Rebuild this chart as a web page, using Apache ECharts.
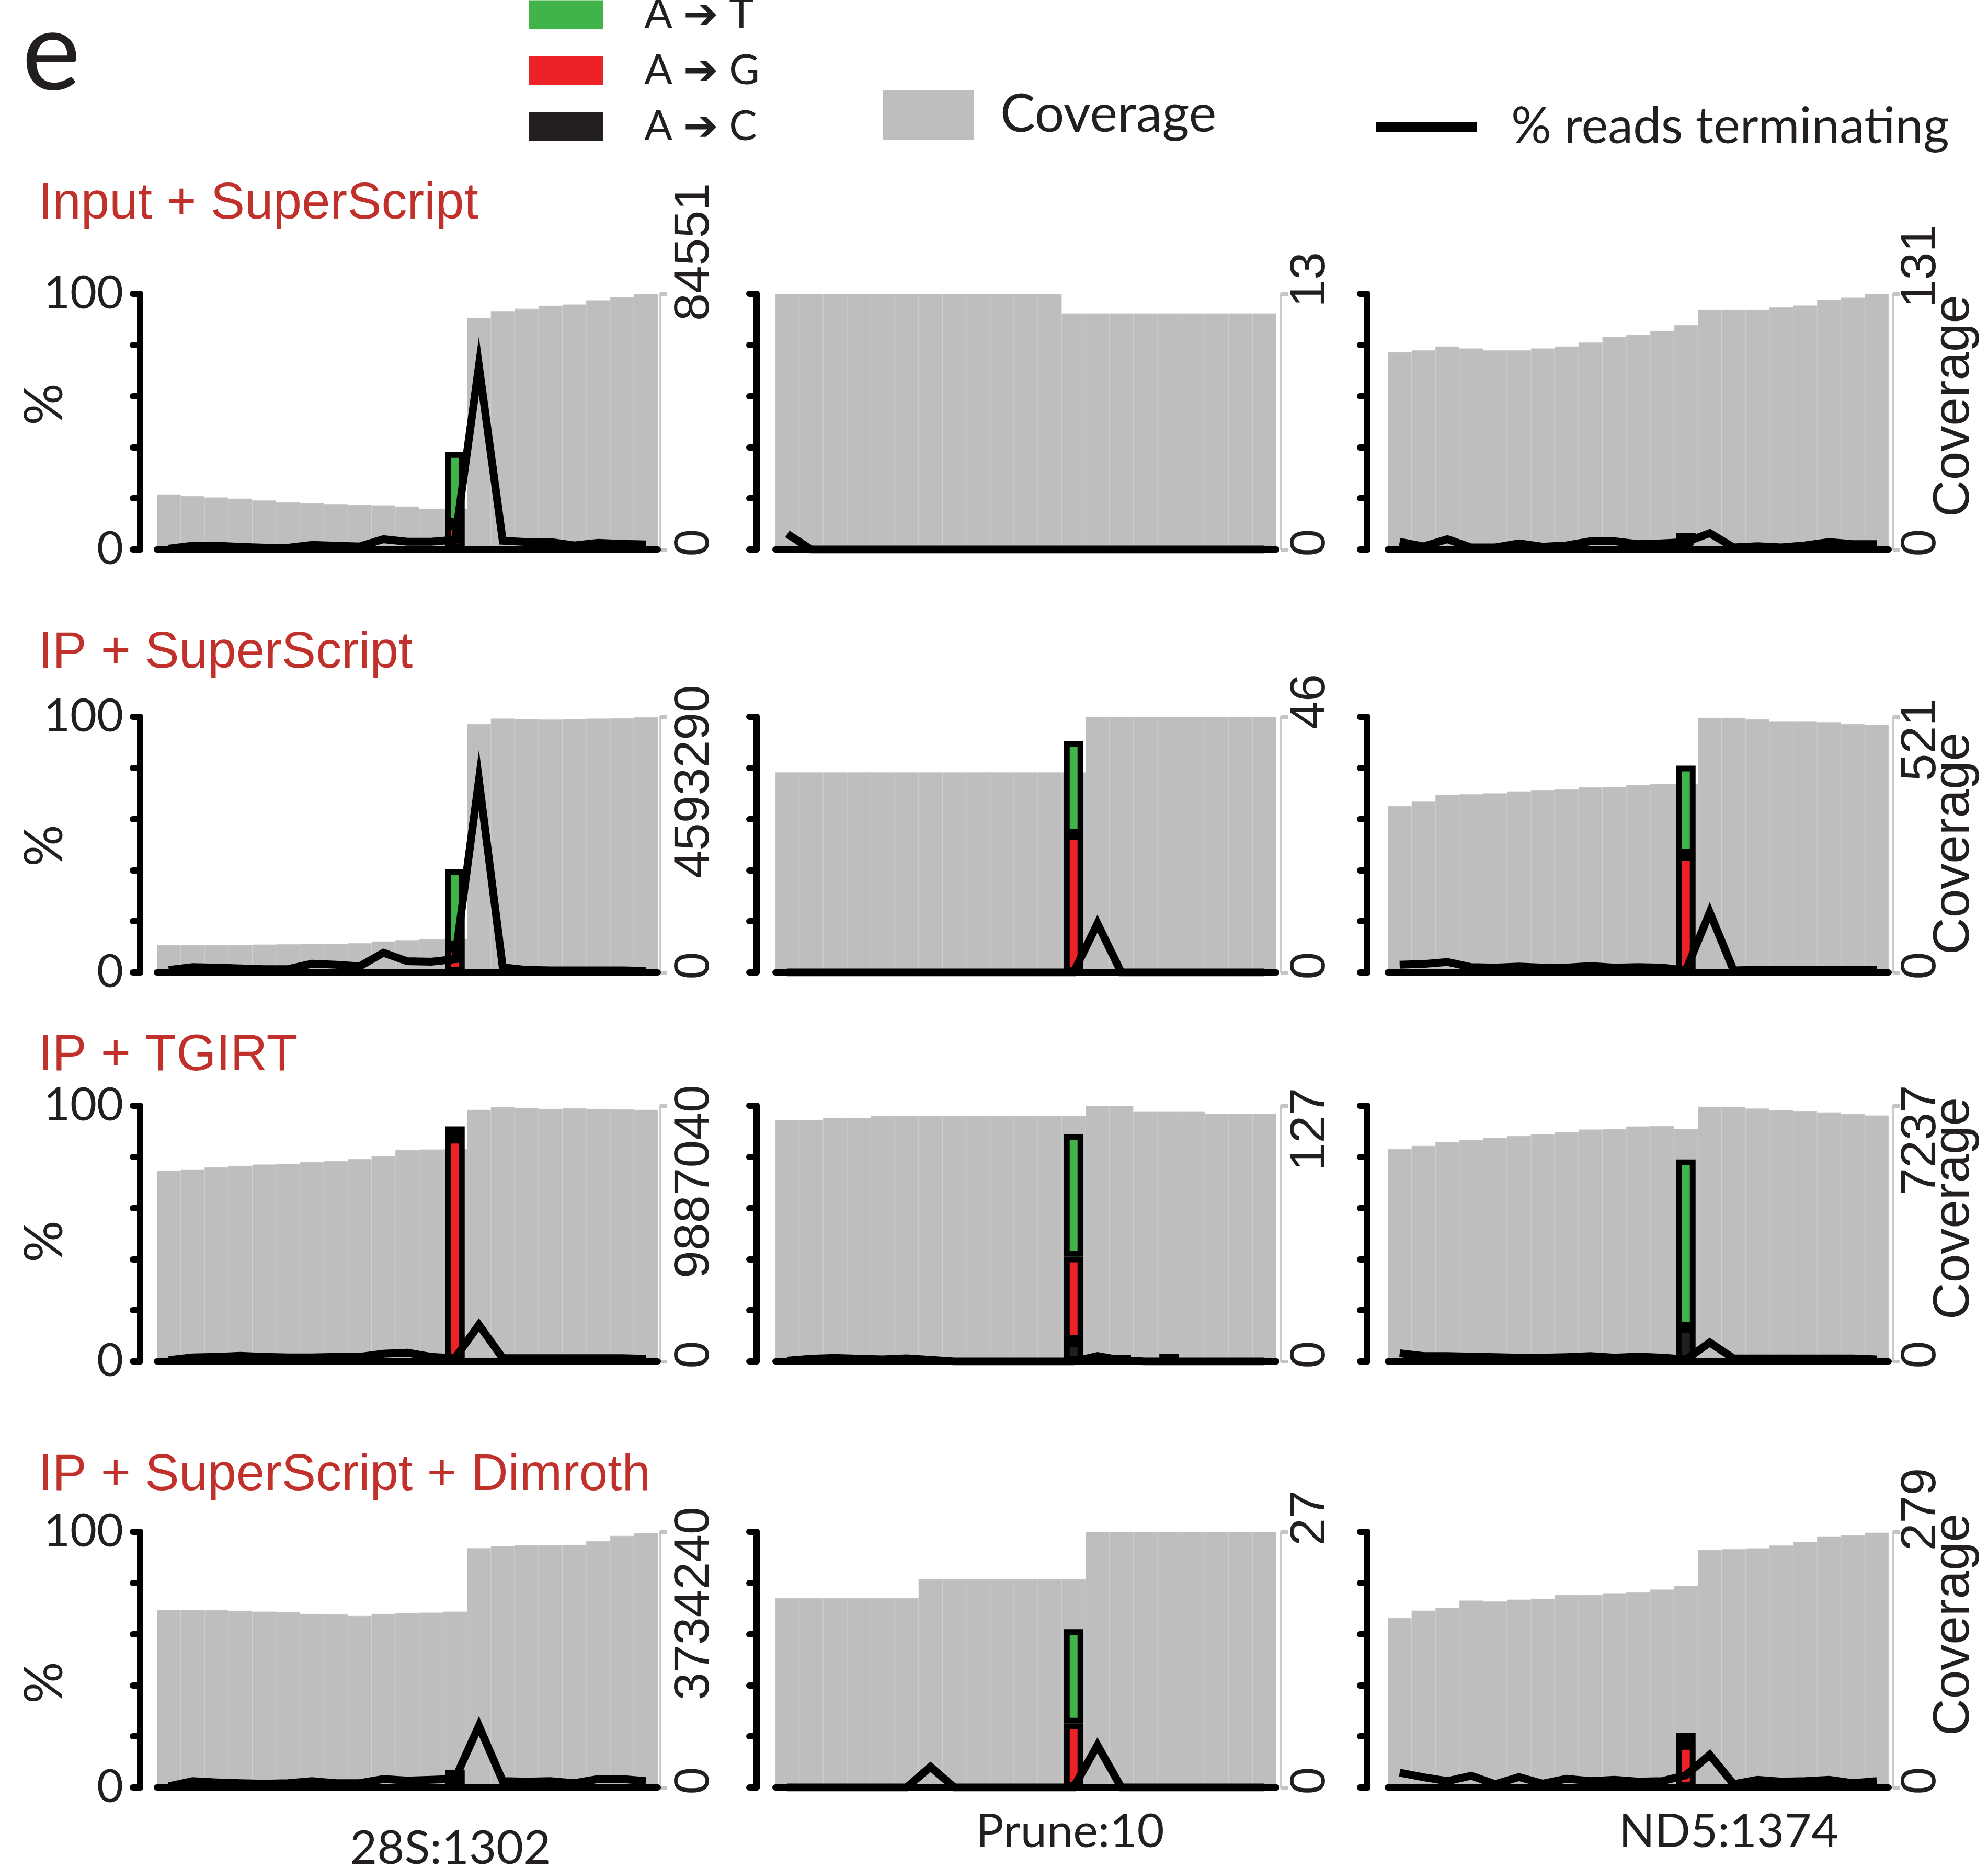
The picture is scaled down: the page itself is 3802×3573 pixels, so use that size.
<!DOCTYPE html>
<html>
<head>
<meta charset="utf-8">
<title>Coverage, misincorporation and RT stops at three sites</title>
<script src="https://cdn.jsdelivr.net/npm/echarts@6.0.0/dist/echarts.min.js"></script>
<style>
  html, body { margin: 0; padding: 0; background: #fff; }
  #chart { width: 3802px; height: 3573px; }
</style>
</head>
<body>
<div id="chart"></div>
<script>
// Panel e: 4 library preparations (rows) x 3 sites (columns).
// Grey bars = read coverage (right axis), stacked bars = A->T / A->G / A->C
// misincorporation at the site, black line = % reads terminating (left axis).

const CONDITIONS = ['Input + SuperScript', 'IP + SuperScript', 'IP + TGIRT', 'IP + SuperScript + Dimroth'];
const SITES = ['28S:1302', 'Prune:10', 'ND5:1374'];
const POSITIONS = ['-12', '-11', '-10', '-9', '-8', '-7', '-6', '-5', '-4', '-3', '-2', '-1',
                   '0', '1', '2', '3', '4', '5', '6', '7', '8'];
const SITE_INDEX = 12;
const PCT_LABELS = [0, 100];

const NAME_T = 'A ➔ T', NAME_G = 'A ➔ G', NAME_C = 'A ➔ C';
const NAME_COV = 'Coverage', NAME_TERM = '% reads terminating';

// panels in reading order: row by row, 28S / Prune / ND5
const COV_MAX = [84551, 13, 131, 4593290, 46, 521, 9887040, 127, 7237, 3734240, 27, 279];

const COVERAGE = [
  [18200, 17700, 17200, 16800, 16200, 15600, 15300, 15000, 14800, 14600, 14200, 13500, 13500, 76600, 78800, 79600, 80600, 81000, 82400, 83500, 84551],
  [13, 13, 13, 13, 13, 13, 13, 13, 13, 13, 13, 13, 12, 12, 12, 12, 12, 12, 12, 12, 12],
  [101, 102, 104, 103, 102, 102, 103, 104, 106, 109, 110, 112, 115, 123, 123, 123, 124, 125, 128, 129, 131],
  [491000, 491000, 491000, 496000, 501000, 505000, 514000, 514000, 524000, 556000, 579000, 593000, 602000, 4465000, 4561000, 4552000, 4543000, 4552000, 4561000, 4566000, 4585000],
  [36, 36, 36, 36, 36, 36, 36, 36, 36, 36, 36, 36, 36, 46, 46, 46, 46, 46, 46, 46, 46],
  [339, 348, 362, 363, 365, 369, 371, 373, 377, 378, 382, 384, 384, 519, 519, 516, 511, 511, 510, 506, 505],
  [7376000, 7425000, 7504000, 7564000, 7613000, 7643000, 7702000, 7751000, 7821000, 7939000, 8167000, 8196000, 8206000, 9729000, 9838000, 9808000, 9768000, 9788000, 9768000, 9749000, 9729000],
  [120, 120, 121, 121, 122, 122, 122, 122, 122, 122, 122, 122, 122, 127, 127, 124, 124, 124, 123, 123, 123],
  [6014, 6101, 6209, 6267, 6332, 6383, 6434, 6492, 6564, 6571, 6651, 6665, 6586, 7208, 7208, 7157, 7114, 7078, 7049, 7005, 6962],
  [2595000, 2595000, 2588000, 2577000, 2569000, 2565000, 2536000, 2528000, 2506000, 2536000, 2547000, 2554000, 2569000, 3495000, 3525000, 3536000, 3536000, 3544000, 3596000, 3675000, 3716000],
  [20, 20, 20, 20, 20, 20, 22, 22, 22, 22, 22, 22, 22, 27, 27, 27, 27, 27, 27, 27, 27],
  [185, 193, 196, 204, 203, 205, 206, 210, 210, 212, 213, 216, 220, 259, 260, 261, 264, 268, 274, 275, 278]
];

const TERMINATING = [
  [0.3, 1.5, 1.5, 1.0, 0.7, 0.7, 1.8, 1.5, 1.2, 4.0, 3.0, 3.0, 3.8, 71.8, 3.4, 2.9, 2.9, 1.6, 2.6, 2.2, 2.0],
  [6.1, 0, 0, 0, 0, 0, 0, 0, 0, 0, 0, 0, 0, 0, 0, 0, 0, 0, 0, 0, 0],
  [3.0, 1.2, 4.0, 0.8, 0.8, 2.4, 1.1, 1.6, 3.2, 3.2, 2.1, 2.4, 2.9, 6.4, 0.8, 1.3, 0.8, 1.6, 2.9, 2.1, 2.1],
  [1.0, 2.1, 1.9, 1.6, 1.3, 1.3, 3.4, 3.0, 2.4, 7.7, 4.4, 4.2, 5.2, 75.2, 2.0, 1.0, 0.8, 0.8, 0.8, 0.8, 0.6],
  [0, 0, 0, 0, 0, 0, 0, 0, 0, 0, 0, 0, 0, 19.1, 0, 0, 0, 0, 0, 0, 0],
  [3.0, 3.3, 4.1, 2.1, 1.9, 2.3, 1.9, 1.9, 2.5, 1.9, 2.1, 1.9, 0.8, 23.5, 0.8, 1.0, 1.0, 1.0, 1.0, 1.0, 1.0],
  [0.5, 1.6, 1.8, 2.2, 1.8, 1.6, 1.6, 1.8, 1.8, 3.0, 3.4, 1.8, 1.3, 14.3, 1.3, 1.3, 1.3, 1.3, 1.3, 1.3, 1.0],
  [0.3, 1.1, 1.4, 1.1, 0.8, 1.2, 0.6, 0, 0, 0, 0, 0, 0, 2.1, 0.5, 0, 0, 0, 0, 0, 0],
  [3.2, 2.1, 2.1, 1.9, 1.7, 1.5, 1.5, 1.7, 2.1, 1.5, 1.9, 1.5, 0.8, 7.4, 1.2, 1.2, 1.2, 1.2, 1.2, 1.2, 0.8],
  [0.5, 2.5, 2.0, 1.7, 1.5, 1.7, 2.5, 1.7, 1.7, 3.3, 2.7, 3.0, 3.4, 24.1, 2.5, 2.3, 2.5, 1.7, 3.3, 3.3, 2.5],
  [0, 0, 0, 0, 0, 0, 8.1, 0, 0, 0, 0, 0, 0, 16.5, 0, 0, 0, 0, 0, 0, 0],
  [5.8, 4.0, 2.5, 4.6, 1.3, 4.1, 1.5, 3.4, 2.5, 3.0, 2.3, 2.5, 4.8, 12.8, 1.3, 3.0, 2.3, 2.5, 3.0, 1.7, 2.5]
];

// misincorporation, % of reads: [position index, A->T, A->G, A->C]
const MISMATCH = [
  [[12, 28.1, 10, 0]],
  [],
  [[12, 3, 1.5, 2]],
  [[12, 30.4, 10, 0]],
  [[12, 36.4, 54, 0]],
  [[12, 34.9, 46, 0]],
  [[12, 4.4, 87.5, 0]],
  [[12, 47.9, 33, 8], [14, 2.5, 0, 0], [16, 3, 0, 0]],
  [[12, 65.7, 0, 13.3]],
  [[12, 6.1, 0.8, 0]],
  [[12, 36.9, 25, 0]],
  [[12, 4.4, 17, 0]]
];

// ---- layout (px) ----
const L = {
  colLeft: [300, 1483, 2654], colWidth: 958,
  rowTop: [562, 1371, 2115, 2930], rowHeight: 489,
  leftAxisOffset: [32, 36, 39], rightAxisOffset: [4, 8, 8],
  rightLabelMargin: [19, 10, 7],
  maxLabelShift: [80, 27, 53, -124, 29, -44, -145, -45, -66, -137, 26, 43],
  zeroLabelShift: 13,
  pctNameShift: [33, -2, -15, -44],
  covNameShift: [30, 2, 48, 67],
  siteLabelShift: [-9, -7, 82], siteLabelMargin: [72, 40, 40],
  titleY: [391, 1250, 2020, 2823]
};

const INK = '#231f20';
const RED_TITLE = '#c0312b';
const GREEN = '#40b449', RED = '#ec2227', BLACK = '#231f20', GREY = '#bebebe';
const HELV = "'Liberation Sans', Arial, Helvetica, sans-serif";
const MYRIAD = "Lato, 'Open Sans', 'DejaVu Sans', sans-serif";

// padding that moves centred text by s px along its reading direction
function shiftPad(s) { return s >= 0 ? [0, 0, 0, 2 * s] : [0, -2 * s, 0, 0]; }

function mismatchData(p, k) {
  const arr = POSITIONS.map(() => '-');
  MISMATCH[p].forEach(e => { if (e[k] > 0) arr[e[0]] = e[k]; });
  return arr;
}

const grids = [], xAxes = [], yAxes = [], series = [];

for (let p = 0; p < 12; p++) {
  const r = Math.floor(p / 3), c = p % 3;
  grids.push({ left: L.colLeft[c], top: L.rowTop[r], width: L.colWidth, height: L.rowHeight, outerBoundsMode: 'none' });

  xAxes.push({
    gridIndex: p, type: 'category', data: POSITIONS, boundaryGap: true, z: 10,
    axisLine: { show: true, lineStyle: { color: '#000', width: 12 } },
    axisTick: { show: false },
    axisLabel: {
      show: r === 3, interval: 0, margin: L.siteLabelMargin[c],
      formatter: (v, i) => i === SITE_INDEX ? '{s|' + SITES[c] + '}' : '',
      rich: { s: { fontFamily: MYRIAD, fontSize: 90, color: INK, padding: shiftPad(L.siteLabelShift[c]) } }
    },
    splitLine: { show: false }
  });
  xAxes.push({ gridIndex: p, type: 'category', data: POSITIONS, show: false });

  yAxes.push({
    gridIndex: p, type: 'value', position: 'left', min: 0, max: 100, interval: 20,
    offset: L.leftAxisOffset[c],
    axisLine: { show: true, lineStyle: { color: '#000', width: 12, cap: 'round' } },
    axisTick: { show: true, length: 14, lineStyle: { color: '#000', width: 12, cap: 'round' } },
    axisLabel: {
      show: c === 0, margin: 32, color: INK, fontFamily: MYRIAD, fontSize: 88, hideOverlap: false,
      formatter: v => PCT_LABELS.indexOf(v) >= 0 ? String(v) : ''
    },
    splitLine: { show: false },
    name: c === 0 ? '%' : '', nameLocation: 'middle', nameRotate: 90, nameGap: 131, nameMoveOverlap: false,
    nameTextStyle: { fontFamily: MYRIAD, fontSize: 100, color: INK, padding: shiftPad(L.pctNameShift[r]) }
  });

  yAxes.push({
    gridIndex: p, type: 'value', position: 'right', min: 0, max: COV_MAX[p], interval: COV_MAX[p],
    offset: L.rightAxisOffset[c],
    axisLine: { show: true, lineStyle: { color: '#cacaca', width: 3 } },
    axisTick: { show: true, length: 14, lineStyle: { color: '#c4c4c4', width: 7 } },
    axisLabel: {
      show: true, rotate: 90, align: 'center', verticalAlign: 'top', margin: L.rightLabelMargin[c],
      showMinLabel: true, showMaxLabel: true, hideOverlap: false,
      formatter: v => v === 0 ? '{z|0}' : '{m|' + v + '}',
      rich: {
        z: { fontFamily: HELV, fontSize: 95, color: INK, padding: shiftPad(L.zeroLabelShift) },
        m: { fontFamily: HELV, fontSize: 95, color: INK, padding: shiftPad(L.maxLabelShift[p]) }
      }
    },
    splitLine: { show: false },
    name: c === 2 ? 'Coverage' : '', nameLocation: 'middle', nameRotate: 90, nameGap: 69, nameMoveOverlap: false,
    nameTextStyle: { fontFamily: HELV, fontSize: 98, color: INK, padding: shiftPad(L.covNameShift[r]) }
  });

  series.push({
    name: NAME_COV, type: 'bar', xAxisIndex: 2 * p, yAxisIndex: 2 * p + 1,
    data: COVERAGE[p], barCategoryGap: '0%', silent: true, z: 1,
    itemStyle: { color: GREY, borderColor: '#c3c3c3', borderWidth: 1 }
  });
  [[NAME_C, 3, BLACK], [NAME_G, 2, RED], [NAME_T, 1, GREEN]].forEach(([name, k, color]) => {
    series.push({
      name, type: 'bar', xAxisIndex: 2 * p + 1, yAxisIndex: 2 * p, stack: 'mm' + p,
      data: mismatchData(p, k), barWidth: 37, silent: true, z: 2,
      itemStyle: { color, borderColor: '#000', borderWidth: 11 }
    });
  });
  series.push({
    name: NAME_TERM, type: 'line', xAxisIndex: 2 * p, yAxisIndex: 2 * p,
    data: TERMINATING[p], symbol: 'none', silent: true, z: 5,
    itemStyle: { color: '#000' },
    lineStyle: { color: '#000', width: 15, join: 'miter', miterLimit: 12 }
  });
}

const graphics = [{
  type: 'text', x: 42, y: 104,
  style: { text: 'e', fontFamily: MYRIAD, fontSize: 212, fill: INK, verticalAlign: 'middle' }
}];
CONDITIONS.forEach((t, r) => graphics.push({
  type: 'text', x: 73, y: L.titleY[r],
  style: { text: t, fontFamily: HELV, fontSize: 98, fill: RED_TITLE, verticalAlign: 'middle' }
}));

const legendBase = { padding: 0, selectedMode: false, icon: 'rect', itemStyle: { borderWidth: 0 } };

const option = {
  animation: false,
  backgroundColor: '#fff',
  textStyle: { fontFamily: MYRIAD },
  legend: [
    Object.assign({}, legendBase, {
      data: [NAME_T, NAME_G, NAME_C], orient: 'vertical', left: 1011, top: -12,
      itemWidth: 143, itemHeight: 55, itemGap: 27,
      textStyle: { fontFamily: MYRIAD, fontSize: 80, lineHeight: 55, color: INK, padding: [0, 0, 0, 73] }
    }),
    Object.assign({}, legendBase, {
      data: [NAME_COV], left: 1688, top: 161, itemWidth: 174, itemHeight: 95,
      textStyle: { fontFamily: MYRIAD, fontSize: 100, lineHeight: 95, color: INK, padding: [22, 0, 0, 46] }
    }),
    Object.assign({}, legendBase, {
      data: [NAME_TERM], left: 2631, top: 195, itemWidth: 194, itemHeight: 20,
      textStyle: { fontFamily: MYRIAD, fontSize: 96, lineHeight: 96, color: INK, padding: [0, 0, 0, 60] }
    })
  ],
  grid: grids,
  xAxis: xAxes,
  yAxis: yAxes,
  series: series,
  graphic: graphics
};

const chart = echarts.init(document.getElementById('chart'), null, { renderer: 'canvas', width: 3802, height: 3573 });
chart.setOption(option);
</script>
</body>
</html>
